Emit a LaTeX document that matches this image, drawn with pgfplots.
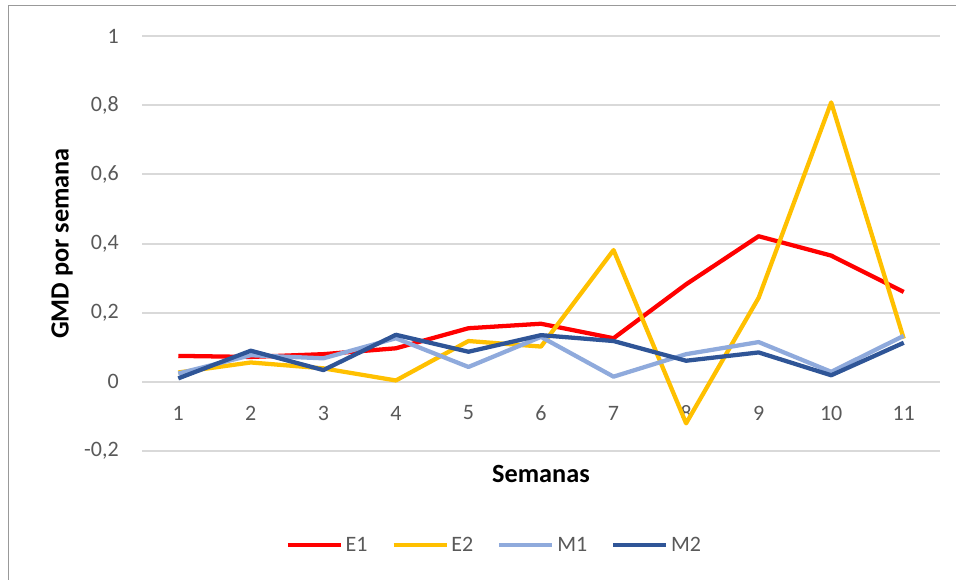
\documentclass[border=0pt]{standalone}
\usepackage{fontspec}
\setmainfont{Carlito}
\usepackage{pgfplots}
\pgfplotsset{compat=1.18}
\definecolor{cE1}{HTML}{FF0000}
\definecolor{cE2}{HTML}{FFC000}
\definecolor{cM1}{HTML}{8FAADC}
\definecolor{cM2}{HTML}{2F5597}
\definecolor{txt}{HTML}{595959}
\definecolor{grid}{HTML}{D9D9D9}
\begin{document}
\begin{tikzpicture}
\path[use as bounding box] (0,0) rectangle (717pt,434.25pt);
\draw[color=black!40, line width=0.75pt] (6pt,-1pt) -- (6pt,429.75pt) -- (718pt,429.75pt);
\begin{axis}[
  at={(106.5pt,96pt)}, anchor=south west,
  scale only axis, width=598.5pt, height=311.25pt,
  xmin=0.5, xmax=11.5, ymin=-0.2, ymax=1,
  axis line style={draw=none},
  major tick length=0pt,
  xtick={1,...,11},
  xticklabels={1,2,3,4,5,6,7,8,9,10,11},
  ytick={-0.2,0,0.2,0.4,0.6,0.8,1},
  yticklabels={{-0,2},{0},{0,2},{0,4},{0,6},{0,8},{1}},
  ymajorgrids, major grid style={color=grid, line width=1.5pt},
  tick label style={font=\fontsize{16.5}{19}\selectfont, text=txt, inner sep=0pt},
  yticklabel style={anchor=east, xshift=-17.25pt},
  xticklabel style={anchor=center, yshift=28.5pt},
  xlabel={Semanas}, ylabel={GMD por semana},
  label style={font=\fontsize{19.7}{23}\selectfont\bfseries, text=black},
  xlabel style={at={(axis description cs:0.5,-0.0554)}, anchor=center},
  ylabel style={at={(axis description cs:-0.1003,0.5)}, anchor=center, rotate=0},
  legend columns=4,
  legend style={at={(axis description cs:0.4420,-0.2265)}, anchor=center, draw=none,
    font=\fontsize{16.5}{19}\selectfont, text=txt, inner sep=0pt,
    /tikz/every even column/.append style={column sep=16pt}},
  legend image code/.code={\draw[#1] (0pt,0pt) -- (39.75pt,0pt);},
  every axis plot/.append style={line width=3.2pt, line join=round},
]
\addplot[color=cE1] coordinates {(1,0.075) (2,0.072) (3,0.080) (4,0.097) (5,0.155) (6,0.168) (7,0.126) (8,0.282) (9,0.421) (10,0.365) (11,0.260)};
\addlegendentry{E1}
\addplot[color=cE2] coordinates {(1,0.027) (2,0.056) (3,0.039) (4,0.004) (5,0.118) (6,0.102) (7,0.381) (8,-0.120) (9,0.243) (10,0.808) (11,0.125)};
\addlegendentry{E2}
\addplot[color=cM1] coordinates {(1,0.024) (2,0.077) (3,0.068) (4,0.126) (5,0.043) (6,0.130) (7,0.015) (8,0.080) (9,0.115) (10,0.029) (11,0.133)};
\addlegendentry{M1}
\addplot[color=cM2] coordinates {(1,0.010) (2,0.090) (3,0.034) (4,0.136) (5,0.087) (6,0.135) (7,0.118) (8,0.061) (9,0.085) (10,0.019) (11,0.113)};
\addlegendentry{M2}
\end{axis}
\end{tikzpicture}
\end{document}
